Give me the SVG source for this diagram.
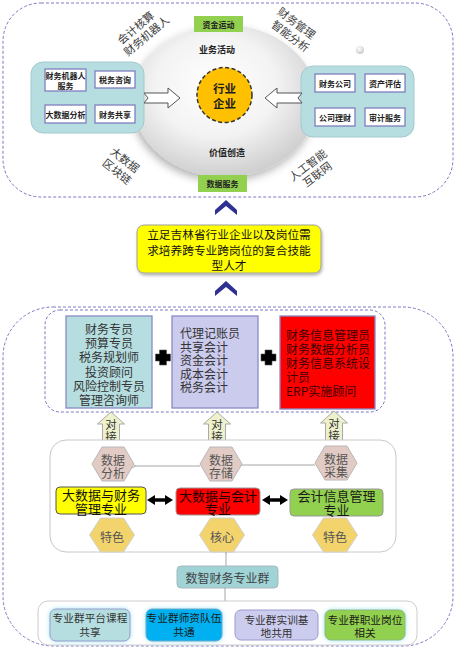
<svg xmlns="http://www.w3.org/2000/svg" width="456" height="650" viewBox="0 0 456 650">
<defs>
<style>
.sans{font-family:"Noto Sans CJK SC","Liberation Sans",sans-serif;}
.serif{font-family:"Liberation Serif","Noto Sans CJK SC",serif;}
.dash{fill:none;stroke:#7a78c4;stroke-width:1;stroke-dasharray:3 2;}
.ibox{fill:#ffffff;stroke:#7f7fbf;stroke-width:1.3;}
.itxt{font-size:8px;font-weight:bold;fill:#222;text-anchor:middle;dominant-baseline:central;}
.green{fill:#92d050;}
.rot{font-size:11px;fill:#3c3c3c;text-anchor:middle;dominant-baseline:central;}
.job{font-size:12px;fill:#333;dominant-baseline:central;}
.hexp{fill:#e2cbc4;stroke:#b8b8b8;stroke-width:1;}
.hexg{fill:#f3d36c;stroke:#d0d0d0;stroke-width:1;}
.htxt{font-size:12px;fill:#555;text-anchor:middle;dominant-baseline:central;}
.mtxt{font-size:13px;text-anchor:middle;dominant-baseline:central;}
.btxt{font-size:10.7px;fill:#333;text-anchor:middle;dominant-baseline:central;}
.dj{fill:#eef2cc;stroke:#a9a9a9;stroke-width:1;}
.djt{font-size:11.5px;fill:#333;text-anchor:middle;dominant-baseline:central;}
.thin{stroke:#a6a6a6;stroke-width:1;fill:none;}
</style>
<radialGradient id="eg" cx="45%" cy="40%" r="60%">
<stop offset="0" stop-color="#ffffff"/>
<stop offset="0.55" stop-color="#f3f3f3"/>
<stop offset="1" stop-color="#cfcfcf"/>
</radialGradient>
<radialGradient id="sg" cx="40%" cy="35%" r="60%">
<stop offset="0" stop-color="#ffffff"/>
<stop offset="1" stop-color="#cfcfcf"/>
</radialGradient>
<filter id="sh" x="-20%" y="-20%" width="140%" height="150%">
<feDropShadow dx="-2" dy="4" stdDeviation="4" flood-color="#000" flood-opacity="0.3"/>
</filter>
<filter id="sh2" x="-10%" y="-10%" width="120%" height="130%">
<feDropShadow dx="1" dy="2" stdDeviation="1.5" flood-color="#000" flood-opacity="0.3"/>
</filter>
<filter id="glow" x="-20%" y="-40%" width="140%" height="180%">
<feDropShadow dx="0" dy="0" stdDeviation="2" flood-color="#8fe3f5" flood-opacity="0.9"/>
</filter>
<polygon id="hexS" points="-21,0 -11,-17 11,-17 21,0 11,17 -11,17"/>
<polygon id="hexL" points="-22.5,0 -11.5,-17 11.5,-17 22.5,0 11.5,17 -11.5,17"/>
<polygon id="plus" points="-3.5,-7.5 3.5,-7.5 3.5,-3.5 7.5,-3.5 7.5,3.5 3.5,3.5 3.5,7.5 -3.5,7.5 -3.5,3.5 -7.5,3.5 -7.5,-3.5 -3.5,-3.5"/>
<path id="duijie" d="M0,0 L13.5,12 L8.5,12 L8.5,30 L-8.5,30 L-8.5,12 L-13.5,12 Z"/>
<polygon id="chev" points="-11,10 0,0 11,10 11,15 0,6 -11,15"/>
<polygon id="darr" points="0,0 8,-5 8,-1.8 18,-1.8 18,-5 26,0 18,5 18,1.8 8,1.8 8,5"/>
<marker id="open" viewBox="0 0 10 10" refX="1" refY="5" markerWidth="7" markerHeight="7" orient="auto-start-reverse" markerUnits="userSpaceOnUse">
<path d="M9,1 L1,5 L9,9" fill="none" stroke="#a6a6a6" stroke-width="1.2"/>
</marker>
</defs>

<rect width="456" height="650" fill="#ffffff"/>

<!-- Top panel -->
<g id="top-panel">
<rect class="dash" x="3" y="3" width="450" height="194" rx="38" ry="38"/>
<ellipse cx="225" cy="101" rx="92" ry="76" fill="url(#eg)" filter="url(#sh)"/>
<circle cx="360" cy="50" r="4" fill="url(#sg)"/>
</g>

<g id="label-zijin">
<rect class="green" x="194" y="16" width="49" height="16"/>
<text class="sans itxt" x="218.5" y="24">资金运动</text>
</g>
<g id="label-shuju">
<rect class="green" x="198" y="175" width="49" height="17"/>
<text class="sans itxt" x="222.5" y="183.5">数据服务</text>
</g>
<text class="sans" x="217" y="49" font-size="9" font-weight="bold" fill="#222" text-anchor="middle" dominant-baseline="central">业务活动</text>
<text class="sans" x="227" y="152" font-size="9" font-weight="bold" fill="#222" text-anchor="middle" dominant-baseline="central">价值创造</text>

<g id="core">
<circle cx="224.5" cy="95" r="27.5" fill="#ffc000" stroke="#333" stroke-width="1.5" stroke-dasharray="4 2.5"/>
<text class="sans" x="224.5" y="88" font-size="11.5" font-weight="bold" fill="#222" text-anchor="middle" dominant-baseline="central">行业<tspan x="224.5" dy="15">企业</tspan></text>
</g>

<g id="left-box">
<rect x="31" y="62" width="113" height="71" rx="12" fill="#b6dee0" stroke="#a3c9cd" stroke-width="1"/>
<rect class="ibox" x="45" y="69" width="41" height="22"/>
<text class="sans itxt" x="65.5" y="75.5">财务机器人<tspan x="65.5" dy="9.5">服务</tspan></text>
<rect class="ibox" x="95" y="71" width="40" height="17"/>
<text class="sans itxt" x="115" y="79.5">税务咨询</text>
<rect class="ibox" x="45" y="105" width="41" height="18"/>
<text class="sans itxt" x="65.5" y="114">大数据分析</text>
<rect class="ibox" x="95" y="105" width="40" height="18"/>
<text class="sans itxt" x="115" y="114">财务共享</text>
</g>

<g id="right-box">
<rect x="301" y="66" width="113" height="71" rx="12" fill="#b6dee0" stroke="#a3c9cd" stroke-width="1"/>
<rect class="ibox" x="315" y="74" width="40" height="18"/>
<text class="sans itxt" x="335" y="83">财务公司</text>
<rect class="ibox" x="365" y="74" width="40" height="18"/>
<text class="sans itxt" x="385" y="83">资产评估</text>
<rect class="ibox" x="315" y="108" width="40" height="18"/>
<text class="sans itxt" x="335" y="117">公司理财</text>
<rect class="ibox" x="365" y="108" width="40" height="18"/>
<text class="sans itxt" x="385" y="117">审计服务</text>
</g>

<g id="top-arrows" fill="#ffffff" stroke="#555" stroke-width="1">
<polygon points="144,93 168,93 168,88 180,98 168,108 168,103 144,103 148,98"/>
<polygon points="302,93 277,93 277,88 265,98 277,108 277,103 302,103 298,98"/>
</g>

<g id="rot-labels" class="sans">
<text class="rot" transform="translate(140.5,31) rotate(-40)" x="-1.5" y="-6.5">会计核算<tspan x="1.5" dy="13">财务机器人</tspan></text>
<text class="rot" transform="translate(294,29) rotate(37)" x="-1.5" y="-7">财务管理<tspan x="1.5" dy="14">智能分析</tspan></text>
<text class="rot" transform="translate(121.5,165) rotate(38)" x="-0.5" y="-7">大数据<tspan x="0.5" dy="14">区块链</tspan></text>
<text class="rot" transform="translate(312,169) rotate(-37)" x="-1" y="-6.5">人工智能<tspan x="1" dy="13">互联网</tspan></text>
</g>

<!-- chevrons -->
<g id="chevrons" fill="#2e3192">
<use href="#chev" x="226" y="200"/>
<use href="#chev" x="226" y="281"/>
</g>

<g id="goal">
<rect x="137" y="225" width="184" height="48" rx="7" fill="#ffff00" stroke="#a0a0a0" stroke-width="1" filter="url(#sh2)"/>
<text class="serif" x="229" y="235.5" font-size="11.7" fill="#111" text-anchor="middle" dominant-baseline="central">立足吉林省行业企业以及岗位需<tspan x="229" dy="15.5">求培养跨专业跨岗位的复合技能</tspan><tspan x="229" dy="15">型人才</tspan></text>
</g>

<!-- Bottom panel -->
<g id="bottom-panel">
<rect class="dash" x="3" y="307" width="450" height="339" rx="50" ry="50"/>
<rect class="dash" x="45" y="310" width="340" height="102" rx="15" ry="15"/>
</g>

<g id="jobs1">
<rect x="66" y="316" width="86" height="92" fill="#b6dee0" stroke="#8a8ac6" stroke-width="1.3"/>
<text class="sans job" text-anchor="middle" x="109" y="328">财务专员<tspan x="109" dy="14.2">预算专员</tspan><tspan x="109" dy="14.2">税务规划师</tspan><tspan x="109" dy="14.2">投资顾问</tspan><tspan x="109" dy="14.2">风险控制专员</tspan><tspan x="109" dy="14.2">管理咨询师</tspan></text>
</g>
<g id="jobs2">
<rect x="172" y="316" width="86" height="92" fill="#cbcbee" stroke="#8a8ac6" stroke-width="1.3"/>
<text class="sans job" x="180" y="332">代理记账员<tspan x="180" dy="13.5">共享会计</tspan><tspan x="180" dy="13.5">资金会计</tspan><tspan x="180" dy="13.5">成本会计</tspan><tspan x="180" dy="13.5">税务会计</tspan></text>
</g>
<g id="jobs3">
<rect x="280" y="316" width="95" height="93" fill="#ff0000" stroke="#8a8ac6" stroke-width="1.3"/>
<text class="sans job" x="286" y="334" font-size="11.6" fill="#3a0000" style="fill:#3a0000">财务信息管理员<tspan x="286" dy="14">财务数据分析员</tspan><tspan x="286" dy="14">财务信息系统设</tspan><tspan x="286" dy="14">计员</tspan><tspan x="286" dy="14">ERP实施顾问</tspan></text>
</g>
<g id="plus-signs" fill="#000" stroke="#555" stroke-width="0.6">
<use href="#plus" x="163" y="357.5"/>
<use href="#plus" x="268.5" y="357.5"/>
</g>

<g id="duijie-arrows" class="sans">
<use href="#duijie" class="dj" x="111" y="412"/>
<text class="djt" x="111" y="424">对<tspan x="111" dy="12">接</tspan></text>
<use href="#duijie" class="dj" x="217" y="412"/>
<text class="djt" x="217" y="424">对<tspan x="217" dy="12">接</tspan></text>
<use href="#duijie" class="dj" x="334" y="411"/>
<text class="djt" x="334" y="423">对<tspan x="334" dy="12">接</tspan></text>
</g>

<rect id="major-frame" x="50" y="440" width="346" height="112" rx="16" ry="16" fill="#ffffff" stroke="#c8c8c8" stroke-width="1"/>

<g id="connectors">
<line class="thin" x1="136" y1="466" x2="200" y2="466" marker-start="url(#open)"/>
<line class="thin" x1="242" y1="465" x2="315" y2="465" marker-start="url(#open)"/>
<line class="thin" x1="226" y1="554" x2="226" y2="566" marker-start="url(#open)"/>
<line class="thin" x1="225" y1="589" x2="225" y2="601" marker-start="url(#open)" marker-end="url(#open)"/>
<g fill="#000">
<use href="#darr" x="147" y="500"/>
<use href="#darr" x="262" y="500"/>
</g>
</g>

<g id="hex-fenxi" class="sans">
<use href="#hexS" class="hexp" x="113" y="464"/>
<text class="htxt" x="113" y="459.5">数据<tspan x="113" dy="12.5">分析</tspan></text>
</g>
<g id="hex-cunchu" class="sans">
<use href="#hexS" class="hexp" x="221" y="464"/>
<text class="htxt" x="221" y="459.5">数据<tspan x="221" dy="12.5">存储</tspan></text>
</g>
<g id="hex-caiji" class="sans">
<use href="#hexS" class="hexp" x="336" y="463"/>
<text class="htxt" x="336" y="458.5">数据<tspan x="336" dy="12.5">采集</tspan></text>
</g>

<g id="major-fin">
<rect x="56" y="487" width="90" height="27" rx="4" fill="#ffff00" stroke="#555" stroke-width="1"/>
<text class="serif mtxt" x="101" y="495.5" fill="#111">大数据与财务<tspan x="101" dy="13">管理专业</tspan></text>
</g>
<g id="major-acc">
<rect x="176" y="488" width="84" height="27" rx="4" fill="#ff0000" stroke="#999" stroke-width="1"/>
<text class="serif mtxt" x="218" y="496" fill="#220000">大数据与会计<tspan x="218" dy="13">专业</tspan></text>
</g>
<g id="major-info">
<rect x="290" y="489" width="93" height="27" rx="4" fill="#92d050" stroke="#999" stroke-width="1"/>
<text class="serif mtxt" x="336.5" y="496.5" fill="#1a1a1a">会计信息管理<tspan x="336.5" dy="13">专业</tspan></text>
</g>

<g id="hex-tese1" class="sans">
<use href="#hexL" class="hexg" x="112" y="535"/>
<text class="htxt" x="112" y="536">特色</text>
</g>
<g id="hex-hexin" class="sans">
<use href="#hexL" class="hexg" x="222" y="535"/>
<text class="htxt" x="222" y="536">核心</text>
</g>
<g id="hex-tese2" class="sans">
<use href="#hexL" class="hexg" x="335" y="535"/>
<text class="htxt" x="335" y="536">特色</text>
</g>

<g id="group-node">
<rect x="177" y="566" width="101" height="22" rx="4" fill="#9fd3d6" stroke="#a8b8bb" stroke-width="1"/>
<text class="sans" x="227.5" y="577" font-size="12" fill="#444" text-anchor="middle" dominant-baseline="central">数智财务专业群</text>
</g>

<rect id="share-frame" x="38" y="601" width="379" height="44" rx="10" ry="10" fill="#ffffff" stroke="#cccccc" stroke-width="1"/>

<g id="share1" class="sans">
<rect x="50" y="609" width="80" height="32" rx="6" fill="#b6dee0" stroke="#9a9acc" stroke-width="1" filter="url(#glow)"/>
<text class="btxt" x="90" y="617.5">专业群平台课程<tspan x="90" dy="13">共享</tspan></text>
</g>
<g id="share2" class="sans">
<rect x="146" y="609" width="76" height="32" rx="6" fill="#00b0f0" stroke="#6fa8c8" stroke-width="1" filter="url(#glow)"/>
<text class="btxt" x="184" y="617.5" style="fill:#1a1a1a">专业群师资队伍<tspan x="184" dy="13">共通</tspan></text>
</g>
<g id="share3" class="sans">
<rect x="235" y="610" width="83" height="30" rx="6" fill="#ccccee" stroke="#9a9acc" stroke-width="1"/>
<text class="btxt" x="276.5" y="619">专业群实训基<tspan x="276.5" dy="12.5">地共用</tspan></text>
</g>
<g id="share4" class="sans">
<rect x="325" y="610" width="80" height="30" rx="6" fill="#92d050" stroke="#8fb870" stroke-width="1" filter="url(#glow)"/>
<text class="btxt" x="365" y="619" style="fill:#1a1a1a">专业群职业岗位<tspan x="365" dy="12.5">相关</tspan></text>
</g>
</svg>
